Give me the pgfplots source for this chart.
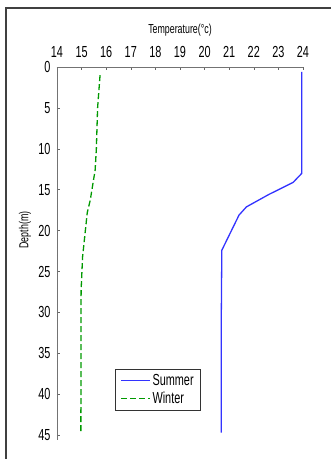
\documentclass[border=0pt]{standalone}
\usepackage{fontspec}
\setmainfont{Liberation Sans}[FakeStretch=0.68]
\usepackage{pgfplots}
\pgfplotsset{compat=1.18}
\begin{document}
\begin{tikzpicture}
\useasboundingbox (0pt,0pt) rectangle (331pt,-459pt);
\draw[line width=1.2pt, black!75] (6pt,-470pt) -- (6pt,-8pt) -- (340pt,-8pt);
\begin{axis}[
  at={(57pt,-67pt)}, anchor=north west,
  scale only axis, width=246pt, height=373pt,
  xmin=14, xmax=24, ymin=0, ymax=45.6,
  y dir=reverse,
  axis x line=top, axis y line=left,
  axis line style={-, black!55, line width=0.6pt},
  xticklabel pos=top,
  xtick={14,15,...,24}, ytick={0,5,...,45},
  tick align=inside,
  major tick length=3pt, minor tick length=1.2pt,
  minor x tick num=4, minor y tick num=4,
  every tick/.style={black!60, line width=0.5pt},
  /pgf/number format/assume math mode=true,
  tick label style={font=\fontsize{16}{16}\selectfont},
  x tick label style={yshift=6pt},
  y tick label style={xshift=-3pt},
  xlabel={Temperature(°c)},
  ylabel={Depth(m)},
  label style={font=\fontsize{13}{13}\selectfont},
  xlabel style={at={(axis description cs:0.5,1.099)}, anchor=center},
  ylabel style={at={(axis description cs:-0.13,0.563)}, anchor=center, rotate=0},
  legend style={at={(0.236,0.19)}, anchor=north west, draw=black!80, line width=0.8pt,
    font=\fontsize{16}{16}\selectfont, legend cell align=left, inner xsep=5pt, inner ysep=3pt, row sep=1pt},
  legend image code/.code={\draw[#1, line width=1.1pt] (0pt,0pt) -- (29pt,0pt);},
  clip=false,
]
\addplot[color=blue!80!white, line width=1.3pt] coordinates {
  (23.95,0.6) (23.95,13.0) (23.6,14.1) (22.6,15.6) (21.7,17.1) (21.4,18.1) (20.7,22.4) (20.68,30) (20.68,44.7)
};
\addlegendentry{Summer}
\addplot[color=green!60!black, line width=1.3pt, dash pattern=on 6pt off 3pt] coordinates {
  (15.75,1.0) (15.65,5) (15.6,10) (15.55,12.6) (15.35,16.3) (15.23,17.8) (15.04,23.2) (14.98,27.3) (14.97,44.6)
};
\addlegendentry{Winter}
\end{axis}
\end{tikzpicture}
\end{document}
